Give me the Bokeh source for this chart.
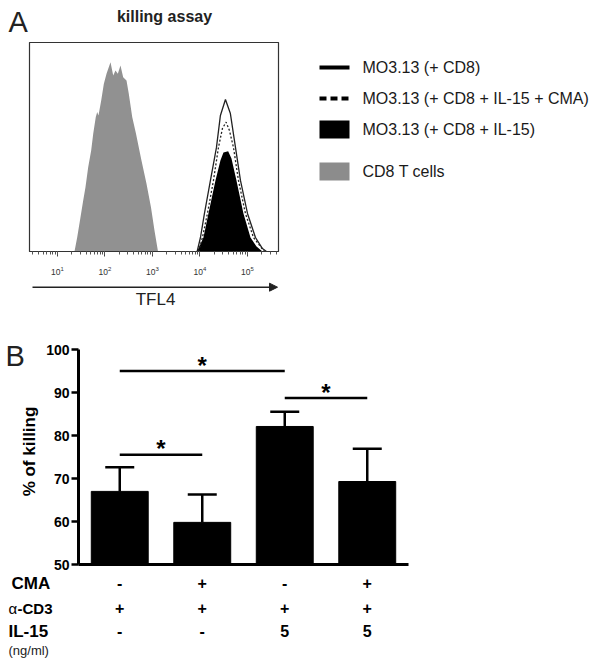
import numpy as np
from bokeh.plotting import figure
from bokeh.models import (Range1d, FactorRange, ColumnDataSource, Arrow, NormalHead,
                          Whisker, TeeHead, FixedTicker)
from bokeh.layouts import column, row
from bokeh.embed import file_html
from bokeh.resources import INLINE
from bokeh.core.properties import value

FONT = "Liberation Sans"

# ---------------- Panel A data: log10(TFL4 intensity) vs relative cell count ----------------
gray_logx = [1.358, 1.415, 1.484, 1.541, 1.589, 1.646, 1.709, 1.752, 1.806, 1.836, 1.863, 1.920,
             1.975, 2.032, 2.116, 2.173, 2.221, 2.270, 2.326, 2.383, 2.453, 2.501, 2.573, 2.653,
             2.768, 2.874, 2.968, 3.042, 3.116]
gray_count = [0.0, 6.8, 16.4, 24.4, 30.8, 40.3, 48.3, 56.3, 64.3, 66.7, 65.1, 72.2,
              80.2, 85.0, 90.6, 84.2, 86.6, 85.0, 89.0, 83.4, 81.8, 75.5, 64.3, 56.3,
              43.5, 32.4, 21.2, 10.0, 0.0]

cd8_logx = [3.94, 4.01, 4.094, 4.22, 4.347, 4.43, 4.536, 4.64, 4.747, 4.852, 5.0, 5.168, 5.315, 5.40]
cd8_count = [0.0, 6.7, 18.2, 34.0, 49.8, 65.1, 72.7, 66.0, 49.8, 34.0, 18.2, 6.7, 1.4, 0.0]

cma_logx = [3.968, 4.052, 4.157, 4.284, 4.389, 4.473, 4.55, 4.62, 4.705, 4.81, 4.957, 5.126, 5.273, 5.357]
cma_count = [0.0, 6.7, 18.2, 34.0, 49.8, 58.9, 61.9, 57.9, 49.8, 34.0, 18.2, 6.7, 2.4, 0.0]

il15_logx = [3.94, 4.073, 4.178, 4.326, 4.43, 4.494, 4.593, 4.663, 4.768, 4.915, 5.063, 5.19, 5.315]
il15_count = [0.0, 6.7, 18.2, 34.0, 43.5, 47.4, 48.0, 44.5, 34.0, 18.2, 6.7, 2.4, 0.0]

legend_labels = ["MO3.13 (+ CD8)", "MO3.13 (+ CD8 + IL-15 + CMA)", "MO3.13 (+ CD8 + IL-15)", "CD8 T cells"]

# ---------------- Panel B data ----------------
groups = ["CD8", "CD8 + CMA", "CD8 + IL-15", "CD8 + IL-15 + CMA"]
killing = [67.0, 59.8, 82.1, 69.3]
killing_err = [5.6, 6.5, 3.4, 7.6]
yticks = [50, 60, 70, 80, 90, 100]
sig_from = [0, 2, 0]
sig_to = [2, 3, 1]
sig_y = [95.0, 88.7, 75.5]
cma_row = ["-", "+", "-", "+"]
acd3_row = ["+", "+", "+", "+"]
il15_row = ["-", "-", "5", "5"]

GRAY = "#919191"
INK = "#222222"


def canvas_fig(w, h, x0, x1, y_top, y_bottom):
    """Helper figure whose frame is the whole canvas, in page-pixel coordinates."""
    f = figure(width=w, height=h, x_range=Range1d(x0, x1), y_range=Range1d(y_bottom, y_top),
               x_axis_location=None, y_axis_location=None, output_backend="svg",
               toolbar_location=None, min_border=0, outline_line_color=None)
    f.grid.visible = False
    return f


# ================= Panel A header =================
hA = canvas_fig(300, 42, 0, 300, 0, 42)
hA.text(x=[8], y=[21.7], text=["A"], text_font=value(FONT), text_font_size="29px",
        text_color=INK, text_baseline="middle", text_align="left")
hA.text(x=[164], y=[16], text=["killing assay"], text_font=value(FONT), text_font_size="16px",
        text_font_style="bold", text_color=INK, text_baseline="middle", text_align="center")

# ================= Panel A histogram =================
pa = figure(width=300, height=238, x_axis_type="log",
            x_range=Range1d(10 ** 0.4105, 10 ** 5.653), y_range=Range1d(0, 100),
            y_axis_location=None, output_backend="svg", toolbar_location=None,
            min_border_left=29, min_border_right=22, min_border_top=0, min_border_bottom=29)
pa.grid.visible = False
pa.outline_line_color = "#333333"
pa.outline_line_width = 1.2

pa.varea(x=10 ** np.array(gray_logx), y1=0, y2=gray_count, fill_color=GRAY)
pa.line(x=10 ** np.array(cd8_logx), y=cd8_count, line_color=INK, line_width=1.3)
pa.varea(x=10 ** np.array(il15_logx), y1=0, y2=il15_count, fill_color="black")
pa.line(x=10 ** np.array(cma_logx), y=cma_count, line_color=INK, line_width=1.3, line_dash="2 2")

ax = pa.xaxis[0]
ax.axis_line_color = "#333333"
ax.axis_line_width = 1.2
ax.major_tick_in = 0
ax.major_tick_out = 5
ax.minor_tick_in = 0
ax.minor_tick_out = 3
ax.major_tick_line_color = "#444444"
ax.minor_tick_line_color = "#555555"
ax.major_label_text_font = FONT
ax.major_label_text_font_size = "8.5px"
ax.major_label_text_color = "#333333"
ax.major_label_standoff = 9

# ================= Panel A footer (axis arrow + name) =================
fA = canvas_fig(300, 53, 0, 300, 280, 333)
fA.add_layout(Arrow(x_start=32, y_start=286.7, x_end=277, y_end=286.7, line_width=1.5,
                    line_color=INK, end=NormalHead(size=8, fill_color=INK, line_color=INK)))
fA.text(x=[155], y=[299.4], text=["TFL4"], text_font=value(FONT), text_font_size="17px",
        text_color=INK, text_baseline="middle", text_align="center")

# ================= Legend panel =================
pl = canvas_fig(304, 333, 300, 604, 0, 333)
LEG_X0, LEG_W, LEG_H = 319, 30, 18
legend_y = [67, 98, 129, 171]
pl.segment(x0=[LEG_X0], x1=[LEG_X0 + LEG_W], y0=[legend_y[0]], y1=[legend_y[0]],
           line_color="black", line_width=4)
pl.segment(x0=[LEG_X0], x1=[LEG_X0 + LEG_W], y0=[legend_y[1]], y1=[legend_y[1]],
           line_color="black", line_width=4, line_dash="7 4")
pl.quad(left=[LEG_X0] * 2, right=[LEG_X0 + LEG_W] * 2,
        top=[legend_y[2] - LEG_H / 2, legend_y[3] - LEG_H / 2],
        bottom=[legend_y[2] + LEG_H / 2, legend_y[3] + LEG_H / 2],
        fill_color=["black", "#8c8c8c"], line_color=None)
pl.text(x=[LEG_X0 + LEG_W + 13] * 4, y=legend_y, text=legend_labels, text_font=value(FONT),
        text_font_size="16px", text_color="#1a1a1a", text_baseline="middle", text_align="left")

# ================= Panel B left strip: panel letter + y axis title =================
leftB = canvas_fig(43, 238, 0, 43, 333, 571)
leftB.text(x=[5], y=[355.9], text=["B"], text_font=value(FONT), text_font_size="29px",
           text_color=INK, text_baseline="middle", text_align="left")
leftB.text(x=[28.5], y=[451], text=["% of killing"], text_font=value(FONT), text_font_size="17px",
           text_font_style="bold", text_color="black", text_baseline="middle",
           text_align="center", angle=np.pi / 2)

# ================= Panel B bars =================
pb = figure(width=561, height=238, x_range=FactorRange(*groups), y_range=Range1d(50, 100),
            output_backend="svg", toolbar_location=None,
            min_border_left=35, min_border_right=196, min_border_top=16, min_border_bottom=7)
pb.grid.visible = False
pb.outline_line_color = None

pb.vbar(x=groups, top=killing, bottom=50, width=0.69, fill_color="black", line_color="black")
upper = [k + e for k, e in zip(killing, killing_err)]
esrc = ColumnDataSource(dict(base=groups, lower=killing, upper=upper))
pb.add_layout(Whisker(base="base", lower="lower", upper="upper", source=esrc,
                      line_width=2.5, line_color="black", lower_head=None,
                      upper_head=TeeHead(size=29, line_width=2.5, line_color="black")))

sig_x0 = [i + 0.5 for i in sig_from]
sig_x1 = [j + 0.5 for j in sig_to]
sig_mid = [(a + b) / 2 for a, b in zip(sig_x0, sig_x1)]
pb.segment(x0=sig_x0, x1=sig_x1, y0=sig_y, y1=sig_y, line_width=2.5, line_color="black")
pb.text(x=sig_mid, y=sig_y, text=["*"] * len(sig_y), text_font=value(FONT), text_font_size="24px",
        text_font_style="bold", text_align="center", text_baseline="alphabetic", y_offset=-6,
        text_color="black")

yax = pb.yaxis[0]
yax.ticker = FixedTicker(ticks=yticks)
yax.axis_line_width = 3
yax.major_tick_line_width = 2.5
yax.major_tick_in = 0
yax.major_tick_out = 7
yax.minor_tick_line_color = None
yax.major_label_text_font = FONT
yax.major_label_text_font_size = "14px"
yax.major_label_text_font_style = "bold"
yax.major_label_text_color = "black"
yax.major_label_standoff = 2

xax = pb.xaxis[0]
xax.ticker = FixedTicker(ticks=[])
xax.axis_line_width = 3
xax.major_tick_line_color = None
xax.major_tick_out = 0
xax.major_tick_in = 0
xax.minor_tick_line_color = None
xax.major_label_standoff = 0

# ================= Panel B condition table =================
table_y = Range1d(659, 571)
row_y = [582.7, 607.7, 630.7]

ptLeft = figure(width=78, height=88, x_range=Range1d(0, 78), y_range=table_y,
                x_axis_location=None, y_axis_location=None, output_backend="svg",
                toolbar_location=None, min_border=0, outline_line_color=None)
ptLeft.grid.visible = False
ptLeft.text(x=[11], y=[row_y[0]], text=["CMA"], text_font=value(FONT), text_font_size="17px",
            text_font_style="bold", text_color="black", text_baseline="middle", text_align="left")
ptLeft.text(x=[8], y=[row_y[1]], text=["α"], text_font=value(FONT), text_font_size="15px",
            text_color="black", text_baseline="middle", text_align="left")
ptLeft.text(x=[17], y=[row_y[1]], text=["-CD3"], text_font=value(FONT), text_font_size="15px",
            text_font_style="bold", text_color="black", text_baseline="middle", text_align="left")
ptLeft.text(x=[8], y=[row_y[2]], text=["IL-15"], text_font=value(FONT), text_font_size="17px",
            text_font_style="bold", text_color="black", text_baseline="middle", text_align="left")
ptLeft.text(x=[8], y=[650], text=["(ng/ml)"], text_font=value(FONT), text_font_size="13px",
            text_color=INK, text_baseline="middle", text_align="left")

pt = figure(width=330, height=88, x_range=pb.x_range, y_range=table_y,
            x_axis_location=None, y_axis_location=None, output_backend="svg",
            toolbar_location=None, min_border=0, outline_line_color=None)
pt.grid.visible = False
tx, ty, tt = [], [], []
for ry, vals in zip(row_y, [cma_row, acd3_row, il15_row]):
    for g, v in zip(groups, vals):
        tx.append(g)
        ty.append(ry)
        tt.append(v)
pt.text(x=tx, y=ty, text=tt, text_font=value(FONT), text_font_size="16px", text_font_style="bold",
        text_align="center", text_baseline="middle", text_color="black")

# helper figures are wrapped so that their frames are not aligned with the plots' frames
layout = column(row(column(hA, row(pa), fA), pl), row(leftB, column(pb)), row(ptLeft, pt))
open("out.html", "w").write(file_html(layout, INLINE))
